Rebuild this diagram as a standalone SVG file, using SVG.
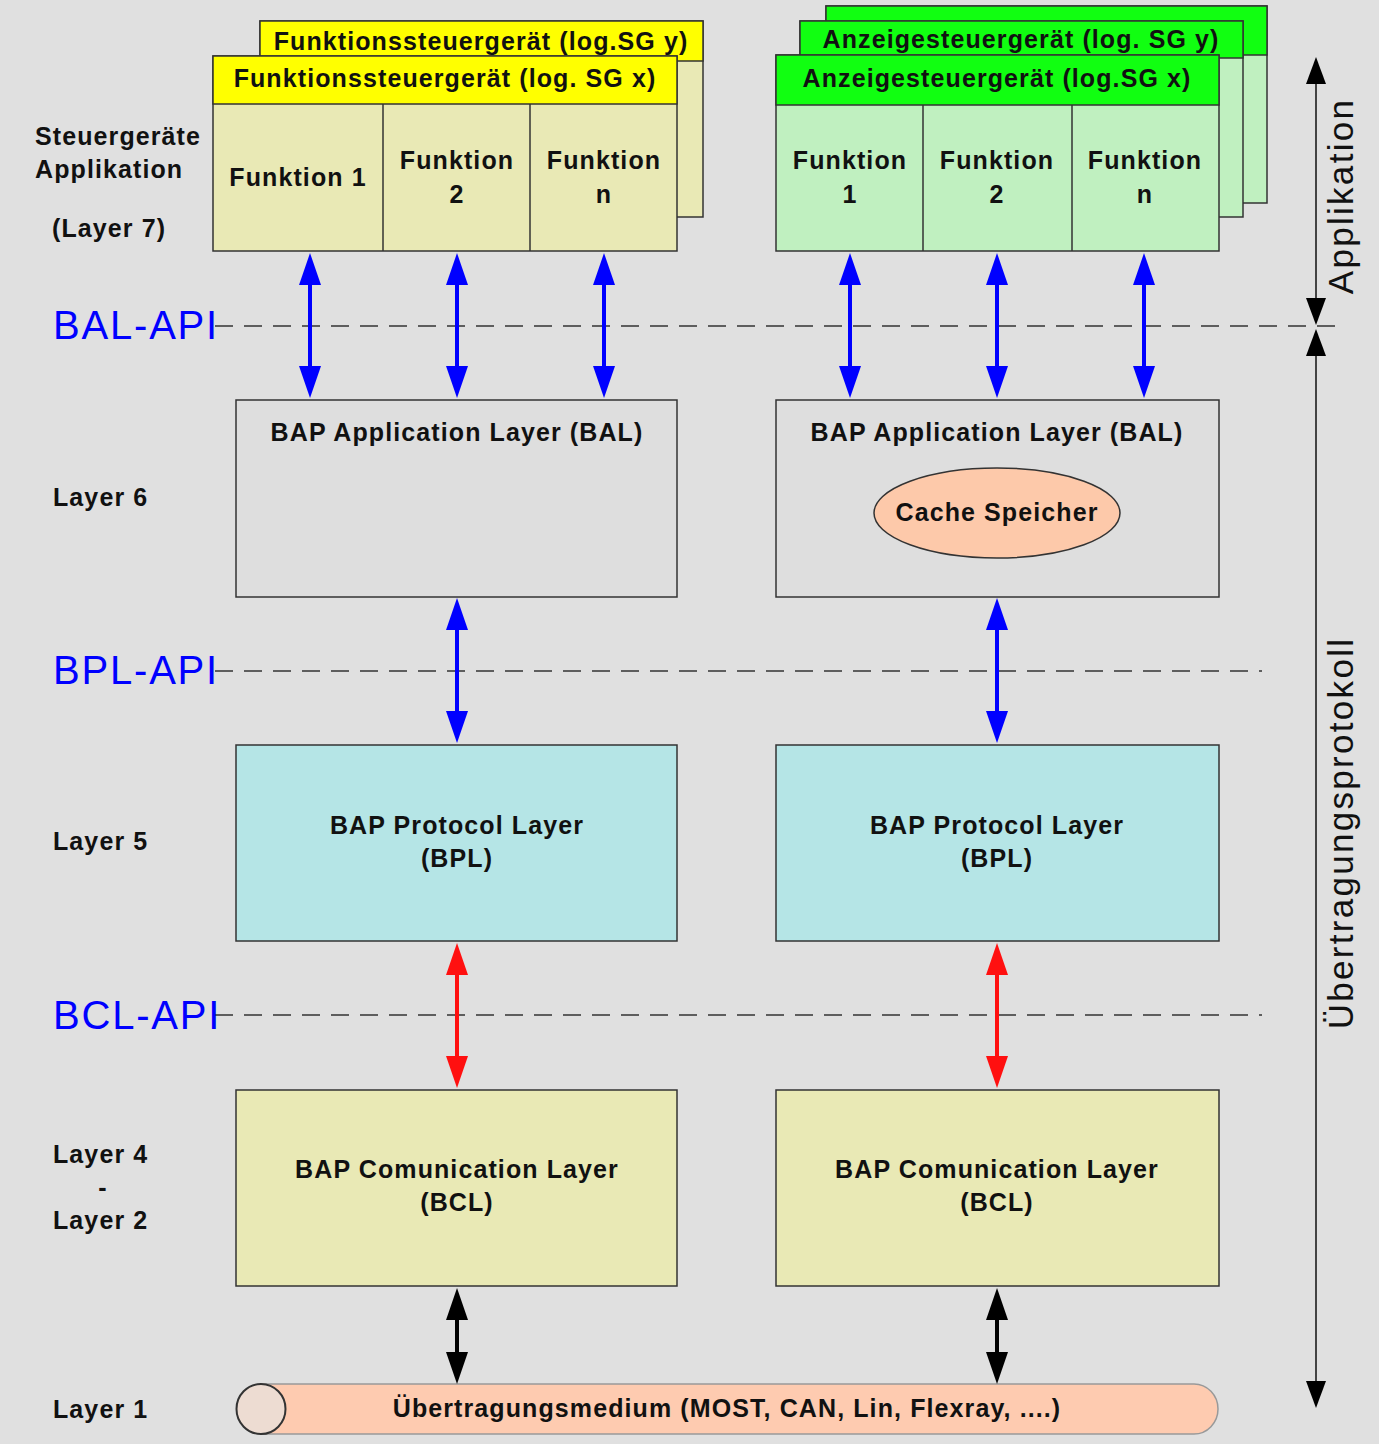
<svg xmlns="http://www.w3.org/2000/svg" width="1379" height="1444" viewBox="0 0 1379 1444">
<style>
.t{font-family:"Liberation Sans",Arial,sans-serif;font-weight:bold;font-size:25px;letter-spacing:1.1px;fill:#111}
.c{text-anchor:middle}
.api{font-family:"Liberation Sans",Arial,sans-serif;font-size:40px;letter-spacing:1.8px;fill:#0000ff}
.side{font-family:"Liberation Sans",Arial,sans-serif;font-size:35px;letter-spacing:2.3px;fill:#111;text-anchor:middle}
.box{stroke:#333;stroke-width:1.5}
.fy{fill:#e9e9b5}
.hy{fill:#ffff00}
.fg{fill:#c0f0c0}
.hg{fill:#11ff11}
.bal{fill:#dedede}
.bpl{fill:#b5e5e6}
.dash{stroke:#333;stroke-width:1.5;stroke-dasharray:18 11;fill:none}
.ab{stroke:#0000ff;stroke-width:4;fill:none}
.ar{stroke:#ff1010;stroke-width:4;fill:none}
.ak{stroke:#000;stroke-width:4;fill:none}
.thin{stroke:#111;stroke-width:1.5;fill:none}
</style>
<defs>
<marker id="mb" markerWidth="32" markerHeight="22" refX="12" refY="11" orient="auto-start-reverse" markerUnits="userSpaceOnUse"><path d="M0,0 L32,11 L0,22 z" fill="#0000ff"/></marker>
<marker id="mr" markerWidth="32" markerHeight="22" refX="12" refY="11" orient="auto-start-reverse" markerUnits="userSpaceOnUse"><path d="M0,0 L32,11 L0,22 z" fill="#ff1010"/></marker>
<marker id="mk" markerWidth="32" markerHeight="22" refX="12" refY="11" orient="auto-start-reverse" markerUnits="userSpaceOnUse"><path d="M0,0 L32,11 L0,22 z" fill="#000"/></marker>
<marker id="mt" markerWidth="27" markerHeight="20" refX="20" refY="10" orient="auto-start-reverse" markerUnits="userSpaceOnUse"><path d="M0,0 L27,10 L0,20 z" fill="#000"/></marker>
</defs>
<rect x="0" y="0" width="1379" height="1444" fill="#e0e0e0"/>

<!-- dashed API lines -->
<g id="api-lines">
<line class="dash" x1="215" y1="326" x2="1340" y2="326"/>
<line class="dash" x1="215" y1="671" x2="1262" y2="671"/>
<line class="dash" x1="215" y1="1015" x2="1262" y2="1015"/>
</g>

<!-- left labels -->
<g id="labels">
<text class="t" x="35" y="145">Steuergeräte</text>
<text class="t" x="35" y="178">Applikation</text>
<text class="t" x="52" y="237">(Layer 7)</text>
<text class="t" x="53" y="506">Layer 6</text>
<text class="t" x="53" y="850">Layer 5</text>
<text class="t" x="53" y="1163">Layer 4</text>
<text class="t c" x="103" y="1196">-</text>
<text class="t" x="53" y="1229">Layer 2</text>
<text class="t" x="53" y="1418">Layer 1</text>
<text class="api" x="53" y="339">BAL-API</text>
<text class="api" x="53" y="684">BPL-API</text>
<text class="api" x="53" y="1029">BCL-API</text>
</g>

<!-- Funktionssteuergerät stack -->
<g id="fsg-y">
<rect class="box fy" x="260" y="21" width="443" height="196"/>
<rect class="box hy" x="260" y="21" width="443" height="40"/>
<text class="t c" x="481" y="50">Funktionssteuergerät (log.SG y)</text>
</g>
<g id="fsg-x">
<rect class="box fy" x="213" y="56" width="464" height="195"/>
<rect class="box hy" x="213" y="56" width="464" height="48"/>
<text class="t c" x="445" y="87">Funktionssteuergerät (log. SG x)</text>
<line class="box" x1="383" y1="104" x2="383" y2="251"/>
<line class="box" x1="530" y1="104" x2="530" y2="251"/>
<text class="t c" x="298" y="186">Funktion 1</text>
<text class="t c" x="457" y="169">Funktion</text>
<text class="t c" x="457" y="203">2</text>
<text class="t c" x="604" y="169">Funktion</text>
<text class="t c" x="604" y="203">n</text>
</g>

<!-- Anzeigesteuergerät stack -->
<g id="asg-z">
<rect class="box fg" x="826" y="6" width="441" height="197"/>
<rect class="box hg" x="826" y="6" width="441" height="49"/>
</g>
<g id="asg-y">
<rect class="box fg" x="800" y="21" width="443" height="196"/>
<rect class="box hg" x="800" y="21" width="443" height="37"/>
<text class="t c" x="1021" y="48">Anzeigesteuergerät (log. SG y)</text>
</g>
<g id="asg-x">
<rect class="box fg" x="776" y="55" width="443" height="196"/>
<rect class="box hg" x="776" y="55" width="443" height="50"/>
<text class="t c" x="997" y="87">Anzeigesteuergerät (log.SG x)</text>
<line class="box" x1="923" y1="105" x2="923" y2="251"/>
<line class="box" x1="1072" y1="105" x2="1072" y2="251"/>
<text class="t c" x="850" y="169">Funktion</text>
<text class="t c" x="850" y="203">1</text>
<text class="t c" x="997" y="169">Funktion</text>
<text class="t c" x="997" y="203">2</text>
<text class="t c" x="1145" y="169">Funktion</text>
<text class="t c" x="1145" y="203">n</text>
</g>

<!-- BAL -->
<g id="bal-left">
<rect class="box bal" x="236" y="400" width="441" height="197"/>
<text class="t c" x="457" y="441">BAP Application Layer (BAL)</text>
</g>
<g id="bal-right">
<rect class="box bal" x="776" y="400" width="443" height="197"/>
<text class="t c" x="997" y="441">BAP Application Layer (BAL)</text>
</g>
<g id="cache">
<ellipse cx="997" cy="513" rx="123" ry="45" fill="#fdc9aa" stroke="#333" stroke-width="1.5"/>
<text class="t c" x="997" y="521">Cache Speicher</text>
</g>

<!-- BPL -->
<g id="bpl-left">
<rect class="box bpl" x="236" y="745" width="441" height="196"/>
<text class="t c" x="457" y="834">BAP Protocol Layer</text>
<text class="t c" x="457" y="867">(BPL)</text>
</g>
<g id="bpl-right">
<rect class="box bpl" x="776" y="745" width="443" height="196"/>
<text class="t c" x="997" y="834">BAP Protocol Layer</text>
<text class="t c" x="997" y="867">(BPL)</text>
</g>

<!-- BCL -->
<g id="bcl-left">
<rect class="box fy" x="236" y="1090" width="441" height="196"/>
<text class="t c" x="457" y="1178">BAP Comunication Layer</text>
<text class="t c" x="457" y="1211">(BCL)</text>
</g>
<g id="bcl-right">
<rect class="box fy" x="776" y="1090" width="443" height="196"/>
<text class="t c" x="997" y="1178">BAP Comunication Layer</text>
<text class="t c" x="997" y="1211">(BCL)</text>
</g>

<!-- Medium -->
<g id="medium">
<path d="M261,1384 H1194 A24,25 0 0 1 1194,1434 H261 z" fill="#fecbb0" stroke="#999" stroke-width="1.5"/>
<ellipse cx="261" cy="1409" rx="24.5" ry="25" fill="#eddcd2" stroke="#333" stroke-width="2"/>
<text class="t c" x="727" y="1417">Übertragungsmedium (MOST, CAN, Lin, Flexray, ....)</text>
</g>

<!-- connectors -->
<g id="connectors">
<line class="ab" x1="310" y1="273" x2="310" y2="378" marker-start="url(#mb)" marker-end="url(#mb)"/>
<line class="ab" x1="457" y1="273" x2="457" y2="378" marker-start="url(#mb)" marker-end="url(#mb)"/>
<line class="ab" x1="604" y1="273" x2="604" y2="378" marker-start="url(#mb)" marker-end="url(#mb)"/>
<line class="ab" x1="850" y1="273" x2="850" y2="378" marker-start="url(#mb)" marker-end="url(#mb)"/>
<line class="ab" x1="997" y1="273" x2="997" y2="378" marker-start="url(#mb)" marker-end="url(#mb)"/>
<line class="ab" x1="1144" y1="273" x2="1144" y2="378" marker-start="url(#mb)" marker-end="url(#mb)"/>
<line class="ab" x1="457" y1="618" x2="457" y2="723" marker-start="url(#mb)" marker-end="url(#mb)"/>
<line class="ab" x1="997" y1="618" x2="997" y2="723" marker-start="url(#mb)" marker-end="url(#mb)"/>
<line class="ar" x1="457" y1="963" x2="457" y2="1068" marker-start="url(#mr)" marker-end="url(#mr)"/>
<line class="ar" x1="997" y1="963" x2="997" y2="1068" marker-start="url(#mr)" marker-end="url(#mr)"/>
<line class="ak" x1="457" y1="1308" x2="457" y2="1364" marker-start="url(#mk)" marker-end="url(#mk)"/>
<line class="ak" x1="997" y1="1308" x2="997" y2="1364" marker-start="url(#mk)" marker-end="url(#mk)"/>
<line class="thin" x1="1316" y1="64" x2="1316" y2="318" marker-start="url(#mt)" marker-end="url(#mt)"/>
<line class="thin" x1="1316" y1="336" x2="1316" y2="1401" marker-start="url(#mt)" marker-end="url(#mt)"/>
</g>

<g id="side-labels">
<text class="side" transform="translate(1353,196) rotate(-90)">Applikation</text>
<text class="side" transform="translate(1353,833) rotate(-90)">Übertragungsprotokoll</text>
</g>
</svg>
